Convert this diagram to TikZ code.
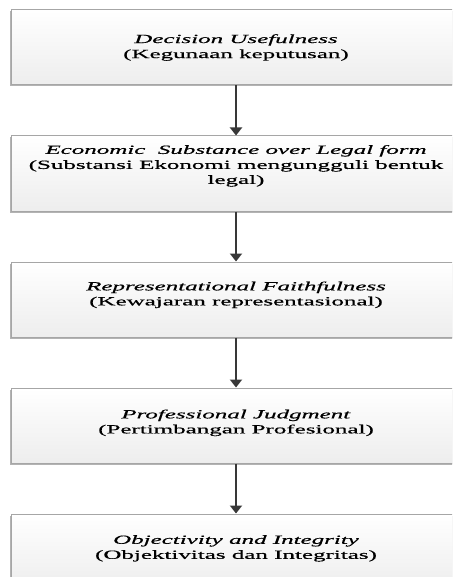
\documentclass[tikz,border=0pt]{standalone}
\usepackage{fontspec}
\setmainfont[FakeStretch=2.0, FakeBold=0.6]{Liberation Serif}
\usetikzlibrary{positioning, arrows.meta, shadows}

\tikzset{
	stage/.style = {draw = gray!70, line width = 1pt, top color = white, bottom color = gray!14,
		minimum width = 450pt, minimum height = 75pt, inner xsep = 0pt, align = center,
		font = \fontsize{12.5}{15}\selectfont,
		drop shadow = {shadow xshift = -1pt, shadow yshift = -1.5pt, opacity = 0.6, fill = gray}},
	flow/.style = {->, draw = black!78, line width = 1.9pt}
}

\begin{document}
\begin{tikzpicture}[> = {Triangle[width = 12pt, length = 8pt]}, node distance = 50pt]
\clip (0, 0) rectangle (452pt, -577pt);

% Stages, top to bottom

\node [stage] (usefulness) at (236pt, -47.5pt)
	{\textit{Decision Usefulness}\\(Kegunaan keputusan)};
\node [stage, below = of usefulness, text depth = 18pt] (substance)
	{\textit{Economic\ \ Substance over Legal form}\\(Substansi Ekonomi mengungguli bentuk\\legal)};
\node [stage, below = of substance, text depth = 12pt] (faithfulness)
	{\textit{Representational Faithfulness}\\(Kewajaran representasional)};
\node [stage, below = of faithfulness, text depth = 8pt] (judgment)
	{\textit{Professional Judgment}\\(Pertimbangan Profesional)};
\node [stage, below = of judgment, text depth = 9pt] (integrity)
	{\textit{Objectivity and Integrity}\\(Objektivitas dan Integritas)};

% Arrows between stages

\draw [flow] (usefulness) -- (substance);
\draw [flow] (substance) -- (faithfulness);
\draw [flow] (faithfulness) -- (judgment);
\draw [flow] (judgment) -- (integrity);

\end{tikzpicture}
\end{document}
